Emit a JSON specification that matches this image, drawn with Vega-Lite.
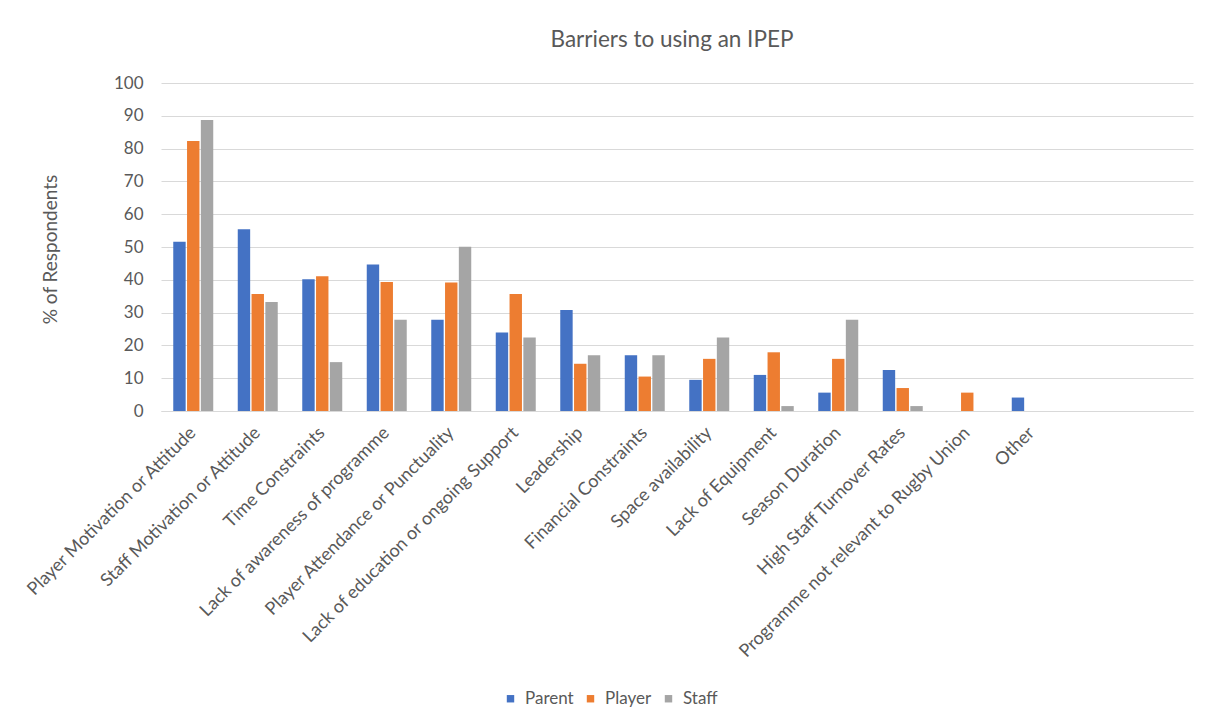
{
  "$schema": "https://vega.github.io/schema/vega-lite/v6.json",
  "autosize": {"type": "none"},
  "width": 1032,
  "height": 328,
  "padding": {"left": 161, "top": 83, "right": 21, "bottom": 316},
  "background": "white",
  "title": {
    "text": "Barriers to using an IPEP",
    "font": "Lato",
    "fontSize": 22.5,
    "fontWeight": "normal",
    "color": "#595959",
    "anchor": "middle",
    "dx": -5,
    "offset": 23
  },
  "data": {
    "values": [
      {"barrier": "Player Motivation or Attitude", "group": "Parent", "pct": 51.6},
      {"barrier": "Player Motivation or Attitude", "group": "Player", "pct": 82.3},
      {"barrier": "Player Motivation or Attitude", "group": "Staff", "pct": 88.7},
      {"barrier": "Staff Motivation or Attitude", "group": "Parent", "pct": 55.4},
      {"barrier": "Staff Motivation or Attitude", "group": "Player", "pct": 35.7},
      {"barrier": "Staff Motivation or Attitude", "group": "Staff", "pct": 33.2},
      {"barrier": "Time Constraints", "group": "Parent", "pct": 40.2},
      {"barrier": "Time Constraints", "group": "Player", "pct": 41.1},
      {"barrier": "Time Constraints", "group": "Staff", "pct": 14.9},
      {"barrier": "Lack of awareness of programme", "group": "Parent", "pct": 44.7},
      {"barrier": "Lack of awareness of programme", "group": "Player", "pct": 39.3},
      {"barrier": "Lack of awareness of programme", "group": "Staff", "pct": 27.8},
      {"barrier": "Player Attendance or Punctuality", "group": "Parent", "pct": 27.8},
      {"barrier": "Player Attendance or Punctuality", "group": "Player", "pct": 39.2},
      {"barrier": "Player Attendance or Punctuality", "group": "Staff", "pct": 50.1},
      {"barrier": "Lack of education or ongoing Support", "group": "Parent", "pct": 23.9},
      {"barrier": "Lack of education or ongoing Support", "group": "Player", "pct": 35.7},
      {"barrier": "Lack of education or ongoing Support", "group": "Staff", "pct": 22.4},
      {"barrier": "Leadership", "group": "Parent", "pct": 30.8},
      {"barrier": "Leadership", "group": "Player", "pct": 14.4},
      {"barrier": "Leadership", "group": "Staff", "pct": 17.0},
      {"barrier": "Financial Constraints", "group": "Parent", "pct": 17.0},
      {"barrier": "Financial Constraints", "group": "Player", "pct": 10.5},
      {"barrier": "Financial Constraints", "group": "Staff", "pct": 17.0},
      {"barrier": "Space availability", "group": "Parent", "pct": 9.5},
      {"barrier": "Space availability", "group": "Player", "pct": 15.9},
      {"barrier": "Space availability", "group": "Staff", "pct": 22.4},
      {"barrier": "Lack of Equipment", "group": "Parent", "pct": 11.0},
      {"barrier": "Lack of Equipment", "group": "Player", "pct": 17.9},
      {"barrier": "Lack of Equipment", "group": "Staff", "pct": 1.5},
      {"barrier": "Season Duration", "group": "Parent", "pct": 5.6},
      {"barrier": "Season Duration", "group": "Player", "pct": 15.9},
      {"barrier": "Season Duration", "group": "Staff", "pct": 27.8},
      {"barrier": "High Staff Turnover Rates", "group": "Parent", "pct": 12.5},
      {"barrier": "High Staff Turnover Rates", "group": "Player", "pct": 7.0},
      {"barrier": "High Staff Turnover Rates", "group": "Staff", "pct": 1.5},
      {"barrier": "Programme not relevant to Rugby Union", "group": "Player", "pct": 5.6},
      {"barrier": "Other", "group": "Parent", "pct": 4.1}
    ]
  },
  "mark": {"type": "bar"},
  "encoding": {
    "x": {
      "field": "barrier",
      "type": "nominal",
      "sort": null,
      "scale": {
        "domain": [
          "Player Motivation or Attitude",
          "Staff Motivation or Attitude",
          "Time Constraints",
          "Lack of awareness of programme",
          "Player Attendance or Punctuality",
          "Lack of education or ongoing Support",
          "Leadership",
          "Financial Constraints",
          "Space availability",
          "Lack of Equipment",
          "Season Duration",
          "High Staff Turnover Rates",
          "Programme not relevant to Rugby Union",
          "Other",
          " ",
          "  "
        ],
        "paddingInner": 0.38,
        "paddingOuter": 0.19
      },
      "axis": {
        "title": null,
        "labelAngle": -45,
        "labelAlign": "right",
        "labelBaseline": "middle",
        "labelFont": "Lato",
        "labelFontSize": 18,
        "labelColor": "#595959",
        "labelPadding": 19,
        "labelDx": 4,
        "labelLimit": 400,
        "ticks": false,
        "domain": true,
        "domainColor": "#d9d9d9",
        "domainWidth": 1,
        "grid": false
      }
    },
    "xOffset": {
      "field": "group",
      "type": "nominal",
      "scale": {"domain": ["Parent", "Player", "Staff"], "paddingInner": 0.1}
    },
    "y": {
      "field": "pct",
      "type": "quantitative",
      "scale": {"domain": [0, 100], "nice": false},
      "axis": {
        "title": "% of Respondents",
        "titleFont": "Lato",
        "titleFontSize": 19,
        "titleFontWeight": "normal",
        "titleColor": "#595959",
        "titleAngle": -90,
        "titleAlign": "center",
        "titleBaseline": "middle",
        "titleX": -111,
        "titleY": 166,
        "values": [0, 10, 20, 30, 40, 50, 60, 70, 80, 90, 100],
        "labelFont": "Lato",
        "labelFontSize": 17,
        "labelColor": "#595959",
        "labelPadding": 18,
        "ticks": false,
        "domain": false,
        "grid": true,
        "gridColor": "#d9d9d9",
        "gridWidth": 1
      }
    },
    "color": {
      "field": "group",
      "type": "nominal",
      "scale": {
        "domain": ["Parent", "Player", "Staff"],
        "range": ["#4472c4", "#ed7d31", "#a5a5a5"]
      },
      "legend": {
        "title": null,
        "orient": "none",
        "direction": "horizontal",
        "legendX": 341,
        "legendY": 607,
        "symbolType": "square",
        "symbolSize": 55,
        "symbolStrokeWidth": 0,
        "labelFont": "Lato",
        "labelFontSize": 17,
        "labelColor": "#595959",
        "labelOffset": 6,
        "columnPadding": 8
      }
    }
  },
  "config": {
    "view": {"stroke": null}
  }
}
